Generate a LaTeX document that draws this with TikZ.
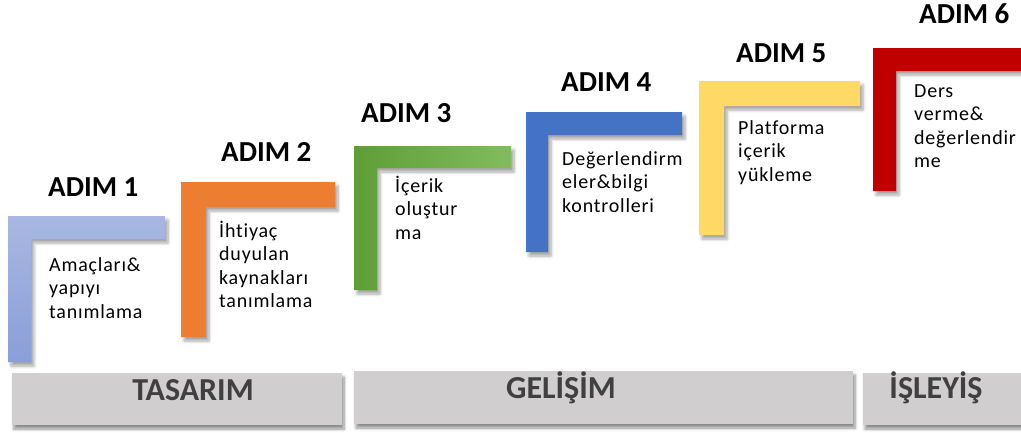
\documentclass[tikz,border=0pt]{standalone}
\usepackage{fontspec}
\setmainfont{Carlito}
\newfontfamily\bodyfont[LetterSpace=4,Ligatures={NoCommon}]{Carlito}
\usetikzlibrary{shadows.blur}
\definecolor{lblueA}{HTML}{A8B8E2}
\definecolor{lblueB}{HTML}{8A9ED8}
\definecolor{orangeL}{HTML}{ED7D31}
\definecolor{greenA}{HTML}{5E9E35}
\definecolor{greenB}{HTML}{82BC5E}
\definecolor{blueL}{HTML}{4472C4}
\definecolor{yellowL}{HTML}{FFD966}
\definecolor{redL}{HTML}{C00000}
\definecolor{barGray}{HTML}{D0CECE}
\definecolor{barText}{HTML}{404040}
\tikzset{
  lshadow/.style={blur shadow={shadow xshift=3pt, shadow yshift=-4pt, shadow blur steps=6, shadow blur radius=3pt, shadow opacity=35}},
  heading/.style={anchor=base west, inner sep=0pt, font=\bfseries\fontsize{29}{32}\selectfont},
  body/.style={anchor=base west, inner sep=0pt, text width=150pt, align=left, font=\bodyfont\fontsize{20}{23.5}\selectfont},
  phasebar/.style={fill=barGray, draw=none, blur shadow={shadow xshift=2pt, shadow yshift=-4pt, shadow blur steps=6, shadow blur radius=3pt, shadow opacity=45}},
  phasetext/.style={anchor=base, inner sep=0pt, text=barText, font=\bfseries\fontsize{32}{34}\selectfont}
}
\begin{document}
\begin{tikzpicture}[x=1pt,y=-1pt]
\useasboundingbox (0,0) rectangle (1021,432);
% L shapes
\path[lshadow, top color=lblueA, bottom color=lblueB]
  (8,216) -- (165,216) -- (165,239) -- (31,239) -- (31,362) -- (8,362) -- cycle;
\path[lshadow, fill=orangeL]
  (181,182) -- (335,182) -- (335,207) -- (206,207) -- (206,337) -- (181,337) -- cycle;
\path[lshadow, left color=greenA, right color=greenB]
  (354,146) -- (511,146) -- (511,168) -- (377,168) -- (377,290) -- (354,290) -- cycle;
\path[lshadow, fill=blueL]
  (526,112) -- (682,112) -- (682,135) -- (548,135) -- (548,252) -- (526,252) -- cycle;
\path[lshadow, fill=yellowL]
  (699,81) -- (860,81) -- (860,106) -- (724,106) -- (724,235) -- (699,235) -- cycle;
\path[lshadow, fill=redL]
  (873,48) -- (1025,48) -- (1025,71) -- (896,71) -- (896,191) -- (873,191) -- cycle;
% headings
\node[heading] (h1) at (48,196) {ADIM 1};
\node[heading] (h2) at (221,161) {ADIM 2};
\node[heading] (h3) at (361,122) {ADIM 3};
\node[heading] (h4) at (561,91) {ADIM 4};
\node[heading] (h5) at (736,62) {ADIM 5};
\node[heading] (h6) at (919,23) {ADIM 6};
% body texts
\node[body] (t1) at (49,271) {Amaçları\&\\yapıyı\\tanımlama};
\node[body] (t2) at (219,237) {İhtiyaç\\duyulan\\kaynakları\\tanımlama};
\node[body] (t3) at (395,192) {İçerik\\oluştur\\ma};
\node[body] (t4) at (562,165) {Değerlendirm\\eler\&bilgi\\kontrolleri};
\node[body] (t5) at (738,134) {Platforma\\içerik\\yükleme};
\node[body] (t6) at (914,97) {Ders\\verme\&\\değerlendir\\me};
% phase bars
\path[phasebar] (12,373) rectangle (342,425);
\path[phasebar] (354,371) rectangle (853,424);
\path[phasebar] (863,373) rectangle (1025,425);
\node[phasetext] (p1) at (193,400) {TASARIM};
\node[phasetext] (p2) at (561,398) {GELİŞİM};
\node[phasetext] (p3) at (936,398) {İŞLEYİŞ};
\end{tikzpicture}
\end{document}
